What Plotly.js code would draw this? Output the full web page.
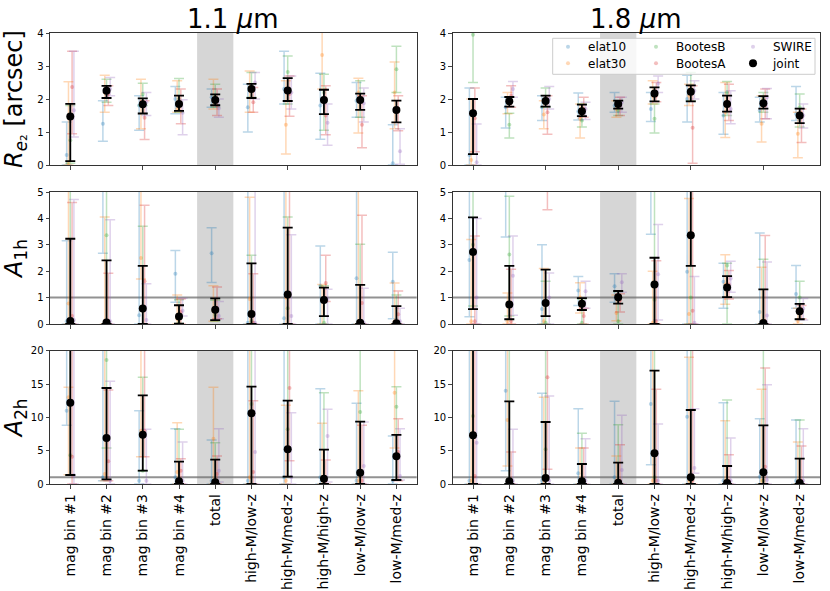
<!DOCTYPE html>
<html>
<head>
<meta charset="utf-8">
<script src="https://cdn.plot.ly/plotly-3.0.1.min.js"></script>
<style>
body { margin: 0; background: #fff; }
#chart { width: 830px; height: 591px; }
</style>
</head>
<body>
<div id="chart"></div>
<script>
// categories along x, same for every panel
const categories = ['mag bin #1', 'mag bin #2', 'mag bin #3', 'mag bin #4', 'total',
    'high-M/low-z', 'high-M/med-z', 'high-M/high-z', 'low-M/low-z', 'low-M/med-z'];
const series = ['elat10', 'elat30', 'BootesB', 'BootesA', 'SWIRE', 'joint'];

// each entry: [value, lower bound, upper bound]
// R_e2, 1.1 um
const re2_11_elat10 = [[0.30,0.00,1.30],[1.25,0.72,1.95],[1.80,1.05,2.10],[2.00,1.55,2.38],[2.05,1.75,2.30],[1.75,1.00,2.45],[2.30,1.85,3.45],[1.80,0.78,2.78],[1.95,1.45,2.50],[0.05,0.00,1.22]];
const re2_11_elat30 = [[0.05,0.00,2.52],[2.20,1.60,2.72],[1.85,1.10,2.60],[1.70,1.60,2.55],[1.95,1.70,2.60],[2.35,1.60,2.85],[1.22,0.33,2.55],[3.33,2.30,4.20],[2.20,0.97,2.63],[2.20,1.10,3.12]];
const re2_11_bootesB = [[0.75,0.05,1.80],[2.30,1.90,2.60],[2.15,1.80,2.48],[2.00,1.60,2.62],[2.10,1.75,2.45],[2.40,2.05,2.80],[2.82,1.85,3.30],[2.20,1.05,2.75],[2.00,1.45,2.55],[2.90,2.20,3.60]];
const re2_11_bootesA = [[2.36,0.95,3.45],[2.15,1.80,2.40],[1.43,0.77,1.95],[1.85,1.25,2.30],[1.80,1.50,2.30],[1.90,1.60,2.35],[2.15,1.48,2.70],[1.50,0.92,2.40],[1.22,0.52,2.10],[1.70,1.04,2.10]];
const re2_11_swire = [[1.66,0.85,3.45],[2.30,2.10,2.65],[1.90,1.50,2.20],[1.58,0.92,1.98],[1.72,1.45,2.00],[2.50,2.00,2.80],[2.20,1.70,2.70],[1.28,0.60,1.85],[1.87,1.30,2.33],[0.42,0.02,1.10]];
const re2_11_joint = [[1.47,0.12,1.85],[2.25,2.03,2.40],[1.84,1.56,2.02],[1.85,1.64,2.10],[1.97,1.81,2.14],[2.30,2.03,2.46],[2.26,1.94,2.63],[1.97,1.54,2.28],[1.97,1.67,2.16],[1.67,1.29,1.95]];

// R_e2, 1.8 um
const re2_18_elat10 = [[0.30,0.00,2.33],[1.75,1.12,2.05],[1.75,1.35,2.10],[1.62,1.36,2.18],[1.80,1.60,2.20],[1.70,1.32,2.20],[2.00,1.30,2.72],[1.50,0.93,2.20],[1.65,1.30,2.05],[1.55,1.35,2.38]];
const re2_18_elat30 = [[0.15,0.00,2.00],[1.95,1.55,2.20],[1.53,1.10,1.95],[1.40,0.82,1.85],[1.70,1.45,1.95],[2.10,1.85,2.55],[2.10,1.80,2.45],[1.60,0.83,2.50],[1.25,0.70,2.10],[0.95,0.22,1.60]];
const re2_18_bootesB = [[3.95,2.50,5.00],[1.22,0.82,1.57],[2.00,1.75,2.33],[1.35,1.15,1.85],[1.65,1.50,1.95],[1.40,0.97,1.85],[2.30,1.95,2.80],[2.20,1.50,2.53],[2.00,1.60,2.20],[1.75,1.15,2.15]];
const re2_18_bootesA = [[1.42,0.40,2.33],[2.10,1.75,2.40],[1.60,0.93,2.10],[1.70,1.45,2.05],[1.80,1.50,2.05],[2.10,1.92,2.50],[1.13,0.05,2.40],[1.80,1.35,2.45],[1.80,1.40,2.30],[1.45,0.68,1.70]];
const re2_18_swire = [[0.08,0.00,1.24],[2.30,2.05,2.53],[2.00,1.70,2.38],[1.70,1.38,1.90],[1.90,1.60,2.05],[2.47,2.20,2.70],[2.25,2.00,2.55],[1.70,1.25,2.25],[2.05,1.40,2.32],[1.50,1.12,1.85]];
const re2_18_joint = [[1.57,0.33,2.00],[1.93,1.77,2.06],[1.94,1.77,2.10],[1.63,1.48,1.83],[1.85,1.71,1.95],[2.17,1.93,2.35],[2.22,1.93,2.41],[1.85,1.62,2.10],[1.87,1.71,2.09],[1.50,1.27,1.71]];

// A_1h, 1.1 um
const a1h_11_elat10 = [[0.10,0.00,3.15],[6.00,2.68,9.00],[0.33,0.00,6.00],[1.90,0.82,2.78],[2.68,1.57,3.65],[0.05,0.00,6.00],[0.22,0.00,6.00],[1.45,0.00,2.95],[1.73,0.00,6.00],[1.60,0.20,2.72]];
const a1h_11_elat30 = [[0.78,0.00,6.00],[0.10,0.00,4.05],[2.50,1.70,6.00],[0.20,0.00,1.10],[0.50,0.10,1.45],[0.95,0.00,4.80],[1.00,0.00,6.00],[1.40,0.00,1.50],[0.10,0.00,6.00],[0.10,0.00,1.55]];
const a1h_11_bootesB = [[0.05,0.00,6.00],[3.36,0.00,6.00],[0.50,0.00,3.70],[0.05,0.02,0.92],[0.35,0.10,0.90],[0.10,0.00,2.60],[0.60,0.00,4.05],[0.05,0.00,1.45],[0.10,0.00,3.02],[0.05,0.00,1.10]];
const a1h_11_bootesA = [[0.30,0.00,4.60],[0.10,0.00,1.92],[1.62,0.00,4.50],[0.45,0.00,0.95],[0.60,0.20,1.40],[0.05,0.00,1.90],[1.10,0.00,6.00],[1.55,0.85,2.60],[0.80,0.00,4.12],[0.37,0.00,1.25]];
const a1h_11_swire = [[0.15,0.00,4.72],[0.10,0.00,3.95],[0.15,0.00,1.52],[0.50,0.30,0.98],[0.30,0.20,0.85],[0.05,0.00,6.00],[0.30,0.00,3.38],[0.95,0.00,1.32],[0.05,0.00,1.35],[0.10,0.00,0.60]];
const a1h_11_joint = [[0.11,0.00,3.23],[0.06,0.00,2.41],[0.59,0.00,2.20],[0.28,0.01,0.71],[0.54,0.15,0.97],[0.38,0.00,2.30],[1.12,0.00,3.65],[0.91,0.30,1.38],[0.05,0.00,1.48],[0.03,0.00,0.68]];

// A_1h, 1.8 um
const a1h_18_elat10 = [[2.42,0.27,6.00],[6.00,3.30,9.00],[0.57,0.00,3.00],[1.27,0.70,1.80],[1.43,0.82,1.90],[6.00,3.40,9.00],[1.98,0.00,6.00],[1.60,0.60,2.30],[0.45,0.00,3.45],[1.14,0.60,2.22]];
const a1h_18_elat30 = [[0.10,0.00,3.20],[0.10,0.00,1.17],[0.10,0.00,2.10],[1.00,0.42,1.56],[0.42,0.12,1.10],[0.05,0.00,2.00],[0.38,0.00,4.75],[1.50,0.75,2.62],[0.10,0.00,2.15],[0.10,0.00,0.60]];
const a1h_18_bootesB = [[3.00,0.68,6.00],[2.63,0.30,4.84],[0.05,0.00,1.62],[0.05,0.00,0.95],[0.10,0.00,1.22],[0.92,0.00,6.00],[1.00,0.00,6.00],[2.22,0.00,2.30],[0.05,0.00,2.45],[1.00,0.18,1.62]];
const a1h_18_bootesA = [[0.10,0.00,3.33],[0.10,0.00,2.07],[6.00,4.33,9.00],[0.30,0.00,0.60],[0.90,0.45,1.15],[0.10,0.00,2.40],[0.50,0.00,6.00],[1.50,0.95,2.03],[0.10,0.00,3.35],[0.50,0.20,0.70]];
const a1h_18_swire = [[1.00,0.00,4.00],[1.83,0.33,3.33],[1.00,0.00,1.93],[1.24,0.60,1.62],[1.58,1.20,1.90],[1.88,0.15,3.77],[0.05,0.00,1.80],[1.72,1.20,2.38],[0.32,0.00,2.35],[0.58,0.15,0.97]];
const a1h_18_joint = [[2.73,0.56,4.04],[0.74,0.18,2.20],[0.80,0.30,2.06],[0.77,0.53,0.98],[1.01,0.77,1.25],[1.50,0.00,2.51],[3.36,2.20,5.40],[1.38,1.02,1.81],[0.04,0.00,1.31],[0.48,0.18,0.76]];

// A_2h, 1.1 um
const a2h_11_elat10 = [[11.0,8.8,25],[1.0,0.5,25],[0.5,0,11.0],[1.0,0,8.3],[0.5,0,6.6],[0.5,0,25],[1.0,0,25],[1.0,0,14.3],[0.5,0,12.1],[0.5,0,7.2]];
const a2h_11_elat30 = [[13.0,1.4,14.5],[1.5,0.5,25],[8.0,4.1,25],[1.8,0,9.2],[6.8,0,14.5],[1.0,0,25],[0.5,0,11.8],[1.0,0,9.1],[0.5,0,14.0],[13.7,5.4,25]];
const a2h_11_bootesB = [[4.3,1.3,25],[18.6,5.4,25],[2.0,1.9,16.0],[0.5,0,8.2],[0.5,0,6.2],[12.0,0,25],[8.2,1.1,25],[0.5,0,13.7],[10.8,0,25],[11.6,0.6,14.6]];
const a2h_11_bootesA = [[4.1,0,25],[3.4,0.5,14.1],[8.0,4.1,25],[2.0,0,3.8],[1.5,0,4.2],[1.8,0,12.5],[14.4,3.5,25],[0.5,0,3.6],[0.5,0,8.8],[4.8,0.5,9.8]];
const a2h_11_swire = [[1.3,0,25],[0.5,0,15.4],[0.5,0,8.2],[0.5,0,6.3],[2.0,0.3,8.3],[4.8,0,25],[1.0,0,10.7],[7.2,0.3,11.2],[2.7,0,9.3],[1.2,0.6,8.3]];
const a2h_11_joint = [[12.2,1.35,25],[6.9,0.7,14.4],[7.4,2.0,13.3],[0.4,0,3.36],[0.25,0,3.66],[10.6,0,14.6],[5.2,1.1,12.5],[0.8,0,5.16],[1.7,0,9.37],[4.16,0.6,7.37]];

// A_2h, 1.8 um
const a2h_18_elat10 = [[0.5,0,25],[14.0,2.0,25],[0.5,0,13.6],[1.6,0,11.3],[1.0,0,12.4],[12.0,2.9,25],[10.1,0,25],[0.5,0,12.2],[1.1,0,9.8],[0.5,0,9.6]];
const a2h_18_elat30 = [[0.5,0,25],[9.6,2.7,25],[0.5,0,13.0],[0.5,0,5.4],[0.5,0,4.2],[0.5,0,25],[0.5,0,19.0],[0.5,0,9.5],[0.5,0,14.2],[0.5,0,6.3]];
const a2h_18_bootesB = [[10.2,0,25],[0.5,0,25],[5.2,0,25],[0.5,0,7.6],[0.5,0,8.9],[1.0,0,25],[0.5,0,25],[0.5,0,12.6],[0.5,0,25],[0.5,0,9.6]];
const a2h_18_bootesA = [[1.2,0,25],[0.5,0,4.8],[16.0,2.2,25],[0.5,0,5.4],[0.5,0,5.9],[0.5,0,14.2],[0.5,0,25],[0.5,0,4.4],[2.6,0,17.4],[0.5,0,5.7]];
const a2h_18_swire = [[6.2,0,25],[0.5,0,8.2],[0.5,0,13.2],[0.5,0,6.8],[2.1,0,10.3],[0.5,0,9.0],[2.4,1.6,11.3],[0.5,0,6.9],[0.6,0,14.9],[0.5,0,8.3]];
const a2h_18_joint = [[7.3,0,25],[0.4,0,12.4],[0.9,0,9.3],[0.4,0,3.0],[0.2,0,3.2],[4.6,0,17.0],[1.0,0,11.1],[0.15,0,2.7],[1.75,0,8.8],[0.15,0,3.8]];

const panels = [
    [re2_11_elat10, re2_11_elat30, re2_11_bootesB, re2_11_bootesA, re2_11_swire, re2_11_joint],
    [re2_18_elat10, re2_18_elat30, re2_18_bootesB, re2_18_bootesA, re2_18_swire, re2_18_joint],
    [a1h_11_elat10, a1h_11_elat30, a1h_11_bootesB, a1h_11_bootesA, a1h_11_swire, a1h_11_joint],
    [a1h_18_elat10, a1h_18_elat30, a1h_18_bootesB, a1h_18_bootesA, a1h_18_swire, a1h_18_joint],
    [a2h_11_elat10, a2h_11_elat30, a2h_11_bootesB, a2h_11_bootesA, a2h_11_swire, a2h_11_joint],
    [a2h_18_elat10, a2h_18_elat30, a2h_18_bootesB, a2h_18_bootesA, a2h_18_swire, a2h_18_joint]
];

// styling
const rgb = ['31,119,180', '255,127,14', '44,160,44', '214,39,40', '148,103,189'];
const offsets = [-0.1, -0.05, 0, 0.05, 0.1, 0];
const legendIds = ['legend', 'legend2', 'legend3', 'legend4', 'legend5', 'legend6'];
const font = 'DejaVu Sans, Liberation Sans, sans-serif';

// page is 830x591, plot area starts at 50px left / 33px top
const L = 50, T = 33, W = 770, H = 451;
const px = (x) => (x - L) / W;
const py = (y) => (T + H - y) / H;

let traces = [];
panels.forEach(function(panel, p){
    let n = p + 1;
    let xa = n === 1 ? 'x' : 'x' + n;
    let ya = n === 1 ? 'y' : 'y' + n;
    panel.forEach(function(rows, s){
        let joint = s === 5;
        let col = joint ? 'black' : 'rgba(' + rgb[s] + ',0.3)';
        traces.push({
            type: 'scatter',
            mode: 'markers',
            name: series[s],
            x: rows.map((r, i) => i + offsets[s]),
            y: rows.map(r => r[0]),
            xaxis: xa,
            yaxis: ya,
            legend: legendIds[s],
            showlegend: p === 0,
            marker: {color: col, size: joint ? 8 : 4},
            error_y: {
                type: 'data',
                symmetric: false,
                array: rows.map(r => r[2] - r[0]),
                arrayminus: rows.map(r => r[0] - r[1]),
                color: col,
                thickness: joint ? 1.8 : 1.5,
                width: 5
            },
            hoverinfo: 'skip'
        });
    });
});

const xDom = [[0, px(416.7)], [px(452.7), 1]];
const yDom = [[py(165), 1], [py(324), py(192)], [0, py(350.7)]];
const yRange = [[0, 4], [0, 5], [0, 20]];
const yTicks = [[0, 1, 2, 3, 4], [0, 1, 2, 3, 4, 5], [0, 5, 10, 15, 20]];
const yTitles = ['<i>R</i><sub><i>e</i>₂</sub> [arcsec]', '<i>A</i><sub>1h</sub>', '<i>A</i><sub>2h</sub>'];

let layout = {
    width: 830,
    height: 591,
    margin: {l: L, r: 830 - L - W, t: T, b: 591 - T - H},
    paper_bgcolor: 'white',
    plot_bgcolor: 'white',
    font: {family: font, color: 'black', size: 10},
    showlegend: true,
    shapes: [],
    annotations: []
};

for (let n = 1; n <= 6; n++){
    let row = Math.floor((n - 1) / 2);
    let colI = (n - 1) % 2;
    let bottom = row === 2;
    let xk = n === 1 ? 'xaxis' : 'xaxis' + n;
    let yk = n === 1 ? 'yaxis' : 'yaxis' + n;
    let xr = n === 1 ? 'x' : 'x' + n;
    let yr = n === 1 ? 'y' : 'y' + n;
    layout[xk] = {
        domain: xDom[colI],
        anchor: yr,
        range: [-0.56, 9.56],
        tickmode: 'array',
        tickvals: bottom ? categories.map((c, i) => i) : [0, 2, 4, 6, 8],
        ticktext: bottom ? categories : undefined,
        showticklabels: bottom,
        tickangle: -90,
        tickfont: {size: 14, family: font},
        ticks: 'outside',
        ticklen: 3.5,
        tickwidth: 1,
        showline: true,
        mirror: true,
        linecolor: '#333',
        linewidth: 1,
        showgrid: false,
        zeroline: false,
        fixedrange: true
    };
    layout[yk] = {
        domain: yDom[row],
        anchor: xr,
        range: yRange[row],
        tickmode: 'array',
        tickvals: yTicks[row],
        tickfont: {size: 10, family: font},
        ticks: 'outside',
        ticklen: 3.5,
        tickwidth: 1,
        showline: true,
        mirror: true,
        linecolor: '#333',
        linewidth: 1,
        showgrid: false,
        zeroline: false,
        fixedrange: true
    };
    if (colI === 0){
        layout[yk].title = {text: yTitles[row], font: {size: 24, family: font}, standoff: 8};
    }
    // shaded "total" column
    layout.shapes.push({
        type: 'rect', xref: xr, yref: yr + ' domain',
        x0: 3.5, x1: 4.5, y0: 0, y1: 1,
        fillcolor: '#d6d6d6', line: {width: 0}, layer: 'below'
    });
    if (row > 0){
        layout.shapes.push({
            type: 'line', xref: xr + ' domain', yref: yr,
            x0: 0, x1: 1, y0: 1, y1: 1,
            line: {color: 'rgba(110,110,110,0.75)', width: 2}, layer: 'below'
        });
    }
}

// column titles
['1.1 <i>μ</i>m', '1.8 <i>μ</i>m'].forEach(function(t, i){
    layout.annotations.push({
        text: t, xref: 'paper', yref: 'paper',
        x: (xDom[i][0] + xDom[i][1]) / 2, y: py(19),
        xanchor: 'center', yanchor: 'middle', showarrow: false,
        font: {size: 26, family: font, color: 'black'}
    });
});

// legend frame
layout.shapes.push({
    type: 'rect', xref: 'paper', yref: 'paper',
    x0: px(552.7), x1: px(815), y0: py(74.3), y1: py(38.3),
    fillcolor: 'rgba(255,255,255,0.8)', line: {color: '#cccccc', width: 1}, layer: 'above'
});

// one legend per entry, laid out as 3 columns x 2 rows
const legendPos = [[568, 46.7], [568, 63.3], [656, 46.7], [656, 63.3], [753, 46.7], [753, 63.3]];
legendIds.forEach(function(id, i){
    layout[id] = {
        x: px(legendPos[i][0] - 20), y: py(legendPos[i][1]),
        xanchor: 'left', yanchor: 'middle',
        bgcolor: 'rgba(0,0,0,0)', borderwidth: 0,
        font: {size: 12, family: font, color: 'black'},
        itemclick: false, itemdoubleclick: false
    };
});

Plotly.newPlot('chart', traces, layout, {displayModeBar: false, staticPlot: true});
</script>
</body>
</html>
